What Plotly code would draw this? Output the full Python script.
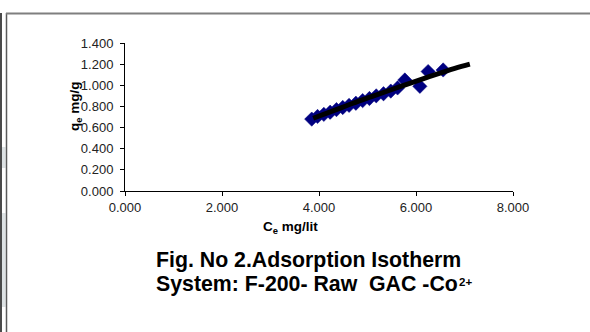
import plotly.graph_objects as go

# Measured data (Ce mg/lit, qe mg/g)
ce_points = [3.85, 3.97, 4.10, 4.23, 4.36, 4.49, 4.62, 4.76, 4.90, 5.04, 5.18, 5.33, 5.48, 5.62,
             5.77, 6.08, 6.25, 6.56]
qe_points = [0.680, 0.705, 0.725, 0.745, 0.770, 0.790, 0.810, 0.830, 0.855, 0.875, 0.900, 0.920,
             0.945, 0.975, 1.050, 0.990, 1.130, 1.145]

# Trend line
ce_fit = [3.88, 4.30, 4.70, 5.10, 5.67, 6.20, 6.80, 7.11]
qe_fit = [0.688, 0.760, 0.830, 0.895, 0.987, 1.070, 1.160, 1.200]

x_ticks = [0, 2, 4, 6, 8]
y_ticks = [0.0, 0.2, 0.4, 0.6, 0.8, 1.0, 1.2, 1.4]

W, H = 590, 332
L, R, T, B = 125, 513, 43, 191  # plot area pixel bounds


def px(xp):
    return (xp - L) / (R - L)


def py(yp):
    return (B - yp) / (B - T)


FONT = "Liberation Sans, Arial, sans-serif"

fig = go.Figure()
fig.add_trace(go.Scatter(
    x=ce_points, y=qe_points, mode="markers",
    marker=dict(symbol="diamond", size=11, color="#000080",
                line=dict(width=0.5, color="#000080")),
    showlegend=False, hoverinfo="skip"))
fig.add_trace(go.Scatter(
    x=ce_fit, y=qe_fit, mode="lines",
    line=dict(color="black", width=5, shape="spline"),
    showlegend=False, hoverinfo="skip"))

axis_common = dict(showline=True, linecolor="black", linewidth=1, ticks="outside",
                   ticklen=4, tickcolor="black", tickwidth=1, showgrid=False,
                   zeroline=False, tickformat=".3f",
                   tickfont=dict(family=FONT, size=13, color="#222222"))

fig.update_layout(
    width=W, height=H, autosize=False,
    margin=dict(l=L, r=W - R, t=T, b=H - B),
    paper_bgcolor="white", plot_bgcolor="white",
    font=dict(family=FONT, color="black"),
    xaxis=dict(range=[0, 8], tickvals=x_ticks, **axis_common),
    yaxis=dict(range=[0, 1.4], tickvals=y_ticks, ticklabelstandoff=4, **axis_common),
)

annotations = [
    dict(text="<b>C<sub>e</sub> mg/lit</b>", x=px(290.5), y=py(227.5),
         xanchor="center", yanchor="middle", font=dict(size=13.5)),
    dict(text="<b>q<sub>e</sub> mg/g</b>", x=px(75.5), y=py(106.5), textangle=-90,
         xanchor="center", yanchor="middle", font=dict(size=13.5)),
    dict(text="<b>Fig. No 2.Adsorption Isotherm</b>", x=px(154), y=py(259.5),
         xanchor="left", yanchor="middle", font=dict(size=21.3)),
    dict(text="<b>System: F-200- Raw\u00a0 GAC -Co</b>", x=px(154), y=py(284),
         xanchor="left", yanchor="middle", font=dict(size=21.3)),
    dict(text="<b>2+</b>", x=px(456.5), y=py(281.5),
         xanchor="left", yanchor="middle", font=dict(size=11.5)),
]
for a in annotations:
    a.update(xref="paper", yref="paper", showarrow=False)
    a["font"].update(family=FONT, color="black")
fig.update_layout(annotations=annotations)

shapes = [
    # light gray strips at the left edge
    dict(type="rect", x0=px(1.5), x1=px(5.5), y0=py(147), y1=py(168),
         fillcolor="#dde2e4", line=dict(width=0)),
    dict(type="rect", x0=px(1.5), x1=px(5.5), y0=py(213), y1=py(307),
         fillcolor="#dde2e4", line=dict(width=0)),
    # outer left line
    dict(type="line", x0=px(1), x1=px(1), y0=py(13), y1=py(332),
         line=dict(color="#4a4a4a", width=2)),
    # frame
    dict(type="line", x0=px(6.5), x1=px(6.5), y0=py(13), y1=py(332),
         line=dict(color="#5a5a5a", width=1.5)),
    dict(type="line", x0=px(6), x1=px(590), y0=py(13.5), y1=py(13.5),
         line=dict(color="#7f7f7f", width=2)),
]
for s in shapes:
    s.update(xref="paper", yref="paper", layer="above")
fig.update_layout(shapes=shapes)

fig.write_html("out.html")
